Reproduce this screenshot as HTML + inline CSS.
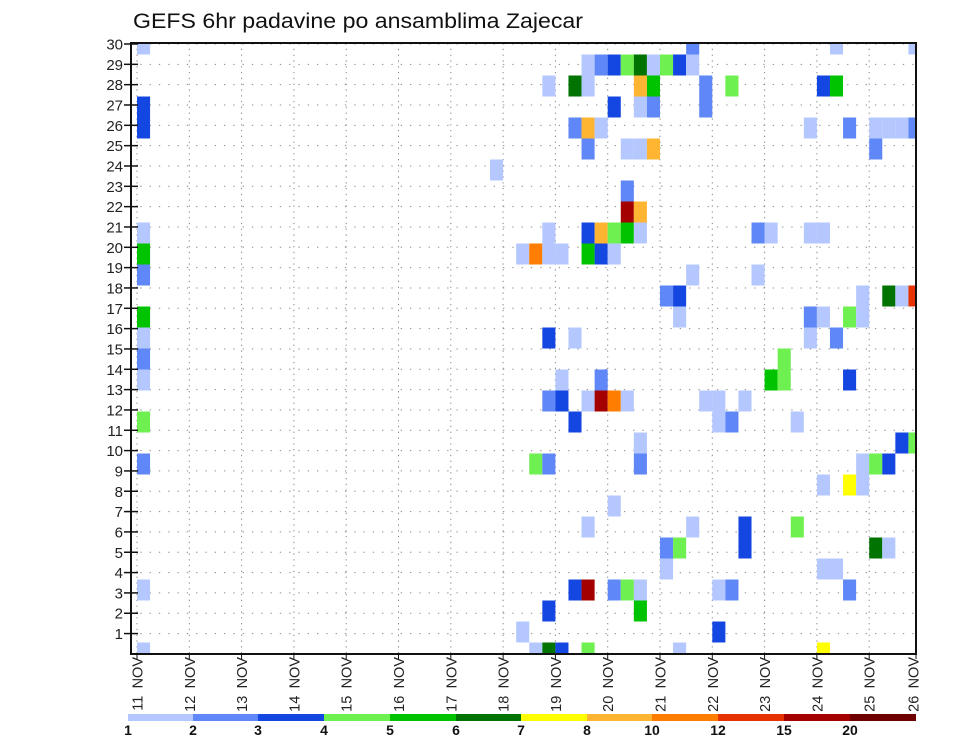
<!DOCTYPE html>
<html><head><meta charset="utf-8"><style>
html,body{margin:0;padding:0;background:#fff;}
svg{display:block;font-family:"Liberation Sans","DejaVu Sans",sans-serif;}
</style></head><body>
<svg id="chart" width="960" height="742" viewBox="0 0 960 742" xmlns="http://www.w3.org/2000/svg">
<text x="133" y="28" font-size="21" textLength="450" lengthAdjust="spacingAndGlyphs" fill="#111">GEFS 6hr padavine po ansamblima Zajecar</text>
<g id="grid"></g>
<g id="cells"></g>
<rect x="131" y="43" width="785" height="611" fill="none" stroke="#111" stroke-width="2"/>
<g id="yaxis"></g>
<g id="xaxis"></g>
<g id="legend"></g>
</svg>
<script>
// data: member (row), 6-hour step index from 11 NOV 00Z, precipitation (mm)
const members = [30,30,30,30, 29,29,29,29,29,29,29,29,29, 28,28,28,28,28,28,28,28,28, 27,27,27,27,27, 26,26,26,26,26,26,26,26,26,26, 25,25,25,25,25, 24, 23, 22,22, 21,21,21,21,21,21,21,21,21,21,21, 20,20,20,20,20,20,20,20, 19,19,19, 18,18,18,18,18,18, 17,17,17,17,17,17, 16,16,16,16,16, 15,15, 14,14,14,14,14,14, 13,13,13,13,13,13,13,13,13, 12,12,12,12,12, 11,11,11, 10,10,10,10,10,10,10, 9,9,9, 8, 7,7,7,7, 6,6,6,6,6, 5,5,5, 4,4,4,4,4,4,4,4,4, 3,3, 2,2, 1,1,1,1,1,1,1];
const steps = [0,42,53,59, 34,35,36,37,38,39,40,41,42, 31,33,34,38,39,43,45,52,53, 0,36,38,39,43, 0,33,34,35,51,54,56,57,58,59, 34,37,38,39,56, 27, 37, 37,38, 0,31,34,35,36,37,38,47,48,51,52, 0,29,30,31,32,34,35,36, 0,42,47, 40,41,55,57,58,59, 0,41,51,52,54,55, 0,31,33,51,53, 0,49, 0,32,35,48,49,54, 31,32,34,35,36,37,43,44,46, 0,33,44,45,50, 38,58,59, 0,30,31,38,55,56,57, 52,54,55, 36, 34,42,46,50, 40,41,46,56,57, 40,52,53, 0,33,34,36,37,38,44,45,54, 31,38, 29,44, 0,30,31,32,34,41,52];
const values = [1.5,2.5,1.5,1.5, 1.5,2.5,3.5,4.5,6.5,1.5,4.5,3.5,1.5, 1.5,6.5,1.5,9,5.5,2.5,4.5,3.5,5.5, 3.5,3.5,1.5,2.5,2.5, 3.5,2.5,9,1.5,1.5,2.5,1.5,1.5,1.5,2.5, 2.5,1.5,1.5,9,2.5, 1.5, 2.5, 17,9, 1.5,1.5,3.5,9,4.5,5.5,1.5,2.5,1.5,1.5,1.5, 5.5,1.5,11,1.5,1.5,5.5,3.5,1.5, 2.5,1.5,1.5, 2.5,3.5,1.5,6.5,1.5,13, 5.5,1.5,2.5,1.5,4.5,1.5, 1.5,3.5,1.5,1.5,2.5, 2.5,4.5, 1.5,1.5,2.5,5.5,4.5,3.5, 2.5,3.5,1.5,17,11,1.5,1.5,1.5,1.5, 4.5,3.5,1.5,2.5,1.5, 1.5,3.5,4.5, 2.5,4.5,2.5,2.5,1.5,4.5,3.5, 1.5,7.5,1.5, 1.5, 1.5,1.5,3.5,4.5, 2.5,4.5,3.5,6.5,1.5, 1.5,1.5,1.5, 1.5,3.5,17,2.5,4.5,1.5,1.5,2.5,2.5, 3.5,5.5, 1.5,3.5, 1.5,1.5,6.5,3.5,4.5,1.5,7.5];
const levels = [1,2,3,4,5,6,7,8,10,12,15,20];
const levelColors = ["#b4c8ff","#5f87f7","#1446e1","#6ef050","#00c300","#007300","#ffff00","#ffb432","#ff7d00","#e63200","#a50000","#6e0000"];
const dayLabels = ["11 NOV","12 NOV","13 NOV","14 NOV","15 NOV","16 NOV","17 NOV","18 NOV","19 NOV","20 NOV","21 NOV","22 NOV","23 NOV","24 NOV","25 NOV","26 NOV"];
const yTicks = [1,2,3,4,5,6,7,8,9,10,11,12,13,14,15,16,17,18,19,20,21,22,23,24,25,26,27,28,29,30];

const NS = "http://www.w3.org/2000/svg";
const PL = 131, PR = 916, PT = 43, PB = 654;
const X0 = 137, DAY = 52.3;
const xStep = k => X0 + k * DAY / 4;
const xDay = d => X0 + d * DAY;
const yTick = r => 44 + (30 - r) * 20.33;
const cellTop = m => 33.5 + (30 - m) * 21;
function colorFor(v){ let c = levelColors[0]; for (let i=0;i<levels.length;i++){ if (v>=levels[i]) c = levelColors[i]; } return c; }
function mk(tag, attrs, parent){ const e=document.createElementNS(NS,tag); for(const a in attrs) e.setAttribute(a,attrs[a]); parent.appendChild(e); return e; }

const grid = document.getElementById('grid');
for (let d=0; d<dayLabels.length; d++){
  const x = xDay(d); if (x>PR) continue;
  const l = mk('line',{x1:x,x2:x,y1:PT,y2:PB,stroke:"#888","stroke-width":1,"stroke-dasharray":"1.3 4.5"},grid);
  
  
}
yTicks.forEach(r=>{
  const y=yTick(r);
  const l = mk('line',{x1:PL,x2:PR,y1:y,y2:y,stroke:"#888","stroke-width":1,"stroke-dasharray":"1.3 8"},grid);
  
  
});

const cells = document.getElementById('cells');
for (let i=0;i<values.length;i++){
  let x1 = xStep(steps[i]), x2 = xStep(steps[i]+1);
  let y1 = cellTop(members[i]), y2 = y1 + 21;
  x1=Math.max(x1,PL); x2=Math.min(x2,PR); y1=Math.max(y1,PT); y2=Math.min(y2,PB);
  if (x2<=x1||y2<=y1) continue;
  const r = mk('rect',{x:x1,y:y1,width:x2-x1,height:y2-y1,fill:colorFor(values[i])},cells);
  
  
}

const ya = document.getElementById('yaxis');
yTicks.forEach(r=>{
  const y=yTick(r);
  const t = mk('line',{x1:124,x2:138,y1:y,y2:y,stroke:"#111","stroke-width":1.5},ya);
  
  
  const tx = mk('text',{x:123,y:y+5.5,"text-anchor":"end","font-size":15,fill:"#222"},ya);
  tx.textContent = r;
  
  
});

const xa = document.getElementById('xaxis');
dayLabels.forEach((lab,d)=>{
  let x = Math.min(xDay(d), 913);
  const t = mk('line',{x1:Math.min(xDay(d),PR),x2:Math.min(xDay(d),PR),y1:PB,y2:PB+5,stroke:"#111","stroke-width":1},xa);
  
  
  const tx = mk('text',{x:0,y:0,"text-anchor":"end","font-size":14.5,fill:"#222",transform:`translate(${x+5.5},${657}) rotate(-90)`},xa);
  tx.textContent = lab.replace(' ','\u2002');
  
  
});

const lg = document.getElementById('legend');
const bx = [128,193,258,324,390,456,521,587,652,718,784,850,916];
levelColors.forEach((c,i)=>{
  const r = mk('rect',{x:bx[i],y:714,width:bx[i+1]-bx[i],height:7,fill:c},lg);
  
  
});
levels.forEach((v,i)=>{
  const t = mk('text',{x:bx[i],y:735,"text-anchor":"middle","font-size":14,"font-weight":"bold",fill:"#111"},lg);
  t.textContent = v;
  
  
});
</script>
</body></html>
